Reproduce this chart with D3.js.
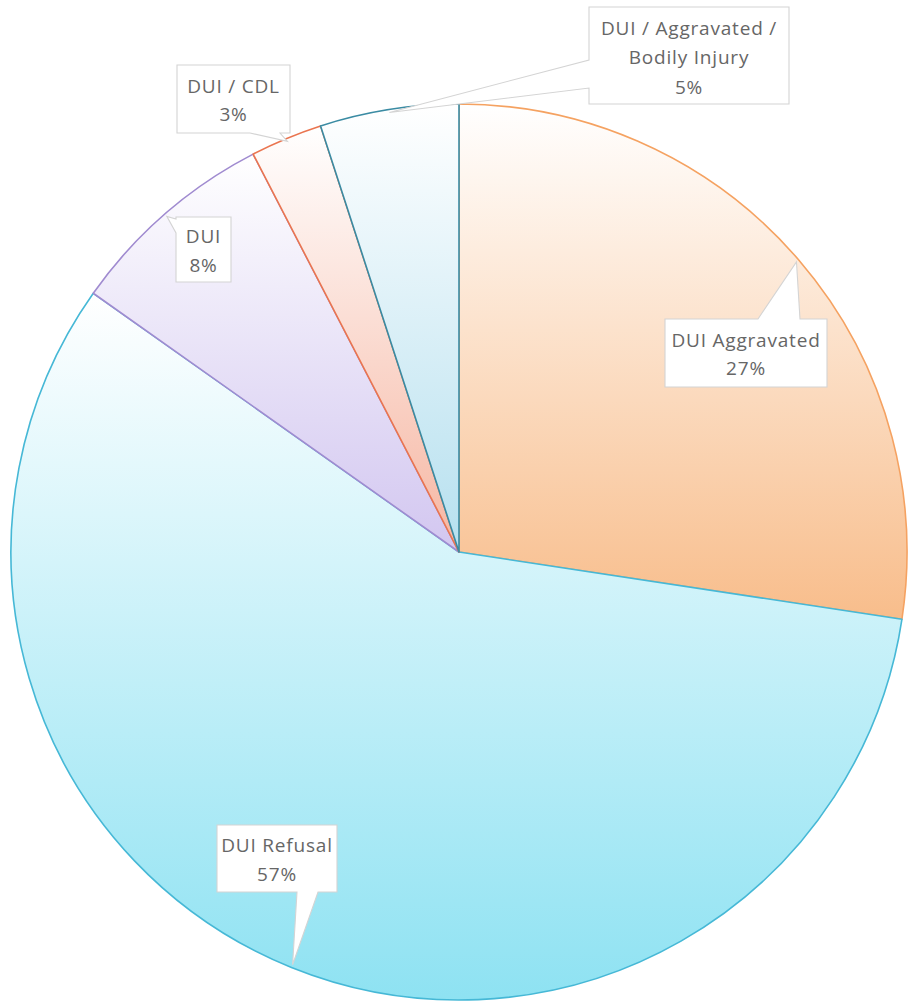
<!DOCTYPE html>
<html>
<head>
<meta charset="utf-8">
<script src="https://cdn.jsdelivr.net/npm/d3@7"></script>
<style>
  html, body { margin: 0; padding: 0; background: #ffffff; }
  svg { display: block; }
  .lbl { font-family: "Open Sans", "Noto Sans", sans-serif; font-size: 19px; fill: #666666; letter-spacing: 0.8px; }
</style>
</head>
<body>
<svg id="chart" width="914" height="1005"></svg>
<script>
// Case mix by charge type (share of cases, %)
const categories = ["DUI Aggravated", "DUI Refusal", "DUI", "DUI / CDL", "DUI / Aggravated / Bodily Injury"];
const shares = [27.4, 57.4, 7.6, 2.6, 5.0];
const labelLines = [
  ["DUI Aggravated"],
  ["DUI Refusal"],
  ["DUI"],
  ["DUI / CDL"],
  ["DUI / Aggravated /", "Bodily Injury"]
];

// slice styling: outline colour and the deep end of each vertical gradient
const strokeColors = ["#f5a261", "#46b8d6", "#a08bd0", "#ea7550", "#3a8ba3"];
const deepColors   = ["#f8bd8b", "#8ee2f2", "#d2c6f0", "#f6b6a2", "#b6e0ef"];

const W = 914, H = 1005;
const cx = 459, cy = 552, R = 448;

// callout boxes: box extents, the side the pointer leaves from, and the pointer base span
const callouts = [
  { x0: 665, y0: 319, x1: 827, y1: 387, side: "top",    b0: 758, b1: 800 },
  { x0: 217, y0: 825, x1: 337, y1: 892, side: "bottom", b0: 297, b1: 318 },
  { x0: 176, y0: 217, x1: 231, y1: 282, side: "left",   b0: 219, b1: 233 },
  { x0: 177, y0: 65,  x1: 290, y1: 133, side: "bottom", b0: 250, b1: 280 },
  { x0: 589, y0: 7,   x1: 789, y1: 104, side: "left",   b0: 60,  b1: 88 }
];

const svg = d3.select("#chart");
const defs = svg.append("defs");

deepColors.forEach((c, i) => {
  const g = defs.append("linearGradient")
    .attr("id", "grad" + i)
    .attr("x1", 0).attr("y1", 0).attr("x2", 0).attr("y2", 1);
  g.append("stop").attr("offset", "0%").attr("stop-color", "#ffffff");
  g.append("stop").attr("offset", "100%").attr("stop-color", c);
});

const data = categories.map((name, i) => ({ name, value: shares[i], i }));
const pie = d3.pie().sort(null).value(d => d.value);
const arcs = pie(data);

const arc = d3.arc().innerRadius(0).outerRadius(R);
const rimArc = d3.arc().innerRadius(R - 3).outerRadius(R - 3);

const g = svg.append("g").attr("transform", `translate(${cx},${cy})`);

g.selectAll("path.slice")
  .data(arcs)
  .join("path")
  .attr("class", "slice")
  .attr("d", arc)
  .attr("fill", d => `url(#grad${d.data.i})`)
  .attr("stroke", d => strokeColors[d.data.i])
  .attr("stroke-width", 1.6)
  .attr("stroke-linejoin", "round");

// callout shape: rectangle with a pointer wedge merged into one side
function calloutPath(c, ax, ay) {
  const p = d3.path();
  p.moveTo(c.x0, c.y0);
  if (c.side === "top") {
    p.lineTo(c.b0, c.y0); p.lineTo(ax, ay); p.lineTo(c.b1, c.y0);
  }
  p.lineTo(c.x1, c.y0);
  p.lineTo(c.x1, c.y1);
  if (c.side === "bottom") {
    p.lineTo(c.b1, c.y1); p.lineTo(ax, ay); p.lineTo(c.b0, c.y1);
  }
  p.lineTo(c.x0, c.y1);
  if (c.side === "left") {
    p.lineTo(c.x0, c.b1); p.lineTo(ax, ay); p.lineTo(c.x0, c.b0);
  }
  p.closePath();
  return p.toString();
}

const labels = svg.append("g");
arcs.forEach(d => {
  const i = d.data.i;
  const c = callouts[i];
  const [px, py] = rimArc.centroid(d);
  const ax = cx + px, ay = cy + py;
  labels.append("path")
    .attr("d", calloutPath(c, ax, ay))
    .attr("fill", "#ffffff")
    .attr("stroke", "#d4d4d4")
    .attr("stroke-width", 1.1);

  const lines = labelLines[i].concat([d3.format(".0f")(d.data.value) + "%"]);
  const lh = lines.length > 2 ? 29.5 : 28.5;
  const midY = (c.y0 + c.y1) / 2 + (lines.length > 2 ? 2 : 1);
  const tx = (c.x0 + c.x1) / 2;
  const t = labels.append("text").attr("class", "lbl").attr("text-anchor", "middle");
  lines.forEach((ln, k) => {
    t.append("tspan")
      .attr("x", tx)
      .attr("y", midY + (k - (lines.length - 1) / 2) * lh)
      .attr("dy", "0.36em")
      .text(ln);
  });
});
</script>
</body>
</html>
